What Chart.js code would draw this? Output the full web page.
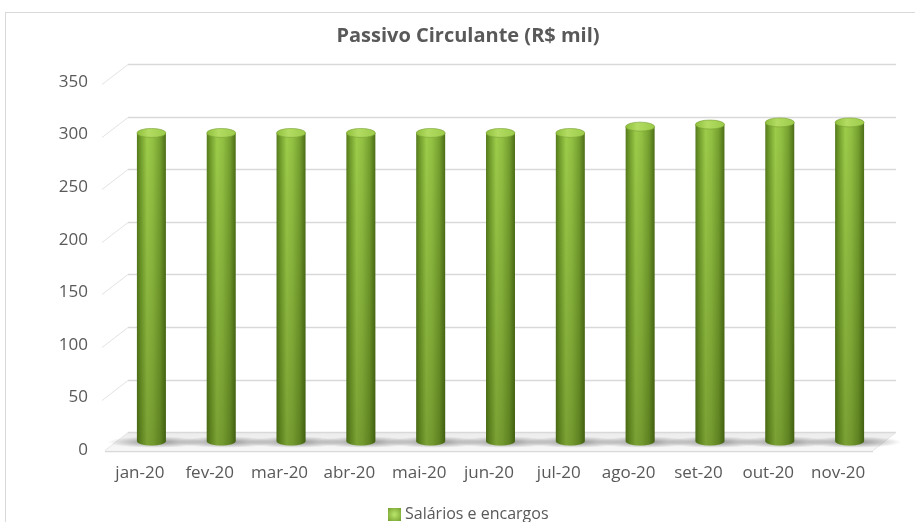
<!DOCTYPE html>
<html>
<head>
<meta charset="utf-8">
<script src="https://cdn.jsdelivr.net/npm/chart.js@4.4.1/dist/chart.umd.min.js"></script>
<style>
  html, body { margin: 0; padding: 0; background: #fff; }
</style>
</head>
<body>
<canvas id="chart" width="915" height="522"></canvas>
<script>
// values (R$ mil)
const months = ['jan-20', 'fev-20', 'mar-20', 'abr-20', 'mai-20', 'jun-20', 'jul-20', 'ago-20', 'set-20', 'out-20', 'nov-20'];
const salarios = [293, 293, 293, 293, 293, 293, 293, 299, 301, 303, 303];
const yTicks = [0, 50, 100, 150, 200, 250, 300, 350];
const seriesName = 'Salários e encargos';
const chartTitle = 'Passivo Circulante (R$ mil)';

// fake 3d depth of the plot box
const depthX = 23, depthY = 18;
const barPct = 0.415;

Chart.defaults.font.family = "'Open Sans', sans-serif";
Chart.defaults.color = '#595959';

const cylGradient = (ctx, cx, w) => {
    const g = ctx.createLinearGradient(cx - w / 2, 0, cx + w / 2, 0);
    g.addColorStop(0, '#557a1c');
    g.addColorStop(0.12, '#6f9b2a');
    g.addColorStop(0.35, '#9dcc4a');
    g.addColorStop(0.55, '#93c143');
    g.addColorStop(0.8, '#76a130');
    g.addColorStop(1, '#4c6e17');
    return g;
};

const barWidth = (chart) => {
    const a = chart.chartArea;
    return (a.right - a.left) / months.length * barPct;
};

const wall3d = {
    id: 'wall3d',
    beforeDraw(chart) {
        const { ctx, chartArea: a, scales: { y } } = chart;
        ctx.save();
        ctx.fillStyle = '#fff';
        ctx.fillRect(0, 0, chart.width, chart.height);
        ctx.strokeStyle = '#d9d9d9';
        ctx.lineWidth = 1;
        ctx.strokeRect(5.5, 12.5, chart.width, chart.height);

        // title (drawn here so it can sit off-centre like the original)
        ctx.fillStyle = '#595959';
        ctx.font = "bold 20px 'Open Sans', sans-serif";
        ctx.textAlign = 'center';
        ctx.textBaseline = 'alphabetic';
        ctx.fillText(chartTitle, 468, 41.5);

        // floor
        const y0 = Math.round(y.getPixelForValue(0)) + 0.5;
        const fg = ctx.createLinearGradient(0, y0 - depthY, 0, y0);
        fg.addColorStop(0, '#ececec');
        fg.addColorStop(1, '#f8f8f8');
        ctx.fillStyle = fg;
        ctx.beginPath();
        ctx.moveTo(a.left, y0);
        ctx.lineTo(a.left + depthX, y0 - depthY);
        ctx.lineTo(a.right + depthX, y0 - depthY);
        ctx.lineTo(a.right, y0);
        ctx.closePath();
        ctx.fill();
        ctx.strokeStyle = '#d9d9d9';
        ctx.lineWidth = 1.5;
        ctx.beginPath();
        ctx.moveTo(a.left + depthX, y0 - depthY);
        ctx.lineTo(a.right + depthX, y0 - depthY);
        ctx.moveTo(a.left, y0 + 1);
        ctx.lineTo(a.right, y0 + 1);
        ctx.stroke();
        ctx.strokeStyle = '#e6e6e6';
        ctx.lineWidth = 1;
        ctx.beginPath();
        ctx.moveTo(a.left, y0);
        ctx.lineTo(a.left + depthX, y0 - depthY);
        ctx.moveTo(a.right, y0);
        ctx.lineTo(a.right + depthX, y0 - depthY);
        ctx.stroke();

        // back wall gridlines + diagonal side wall lines
        yTicks.forEach(v => {
            if (v === 0) return;
            const py = Math.round(y.getPixelForValue(v)) + 0.5;
            ctx.strokeStyle = '#e3e3e3';
            ctx.lineWidth = 1;
            ctx.beginPath();
            ctx.moveTo(a.left - 3, py + 2);
            ctx.lineTo(a.left + depthX, py - depthY);
            ctx.stroke();
            ctx.strokeStyle = '#d9d9d9';
            ctx.lineWidth = 1.6;
            ctx.beginPath();
            ctx.moveTo(a.left + depthX, py - depthY);
            ctx.lineTo(a.right + depthX, py - depthY);
            ctx.stroke();
        });
        ctx.restore();
    },
    beforeDatasetsDraw(chart) {
        const ctx = chart.ctx;
        ctx.save();
        // bars stand in the middle of the depth
        ctx.translate(depthX / 2, -depthY / 2);
        // shadows on the floor
        chart.getDatasetMeta(0).data.forEach(bar => {
            const { x, base } = bar.getProps(['x', 'base'], true);
            ctx.save();
            ctx.translate(x + 4, base + 1);
            ctx.scale(1, 0.12);
            const rg = ctx.createRadialGradient(0, 0, 0, 0, 0, 48);
            rg.addColorStop(0, 'rgba(60,60,60,0.55)');
            rg.addColorStop(1, 'rgba(60,60,60,0)');
            ctx.fillStyle = rg;
            ctx.beginPath();
            ctx.arc(0, 0, 48, 0, Math.PI * 2);
            ctx.fill();
            ctx.restore();
        });
    },
    afterDatasetsDraw(chart) {
        const ctx = chart.ctx;
        const ry = 4.5;
        chart.getDatasetMeta(0).data.forEach(bar => {
            const { x, y, base, width } = bar.getProps(['x', 'y', 'base', 'width'], true);
            const rx = width / 2;
            // rounded bottom
            ctx.fillStyle = cylGradient(ctx, x, width);
            ctx.beginPath();
            ctx.ellipse(x, base, rx, ry, 0, 0, Math.PI);
            ctx.fill();
            // darker towards the floor
            const vg = ctx.createLinearGradient(0, y, 0, base + ry);
            vg.addColorStop(0, 'rgba(40,60,0,0)');
            vg.addColorStop(1, 'rgba(40,60,0,0.3)');
            ctx.fillStyle = vg;
            ctx.beginPath();
            ctx.moveTo(x - rx, y);
            ctx.lineTo(x + rx, y);
            ctx.lineTo(x + rx, base);
            ctx.ellipse(x, base, rx, ry, 0, 0, Math.PI);
            ctx.closePath();
            ctx.fill();
            // top cap
            const tg = ctx.createLinearGradient(x - rx, 0, x + rx, 0);
            tg.addColorStop(0, '#8fbf3c');
            tg.addColorStop(0.4, '#b2dc62');
            tg.addColorStop(1, '#9ccb4a');
            ctx.fillStyle = tg;
            ctx.beginPath();
            ctx.ellipse(x, y, rx, ry, 0, 0, Math.PI * 2);
            ctx.fill();
            ctx.strokeStyle = 'rgba(120,160,50,0.6)';
            ctx.lineWidth = 1;
            ctx.stroke();
        });
        ctx.restore();
    },
    afterDraw(chart) {
        // legend: single series, box + label, sitting at the very bottom
        const ctx = chart.ctx;
        ctx.save();
        const bx = 388, by = 508, bs = 13;
        const lg = ctx.createRadialGradient(bx + bs / 2, by + bs / 2, 1, bx + bs / 2, by + bs / 2, bs * 0.75);
        lg.addColorStop(0, '#b4de64');
        lg.addColorStop(1, '#6f9b2a');
        ctx.fillStyle = lg;
        ctx.fillRect(bx, by, bs, bs);
        ctx.fillStyle = '#595959';
        ctx.font = "16px 'Open Sans', sans-serif";
        ctx.textAlign = 'left';
        ctx.textBaseline = 'middle';
        ctx.fillText(seriesName, 405, 514.5);
        ctx.restore();
    }
};

new Chart(document.getElementById('chart'), {
    type: 'bar',
    data: {
        labels: months,
        datasets: [{
            label: seriesName,
            data: salarios,
            categoryPercentage: 1,
            barPercentage: barPct,
            borderWidth: 0,
            backgroundColor: (c) => {
                const chart = c.chart;
                if (!chart.chartArea) return '#8ab83a';
                return cylGradient(chart.ctx, chart.scales.x.getPixelForValue(c.dataIndex), barWidth(chart));
            }
        }]
    },
    options: {
        responsive: false,
        animation: false,
        layout: { padding: { left: 0, right: 42, top: 82, bottom: 25.5 } },
        plugins: {
            title: { display: false },
            legend: { display: false },
            tooltip: { enabled: false }
        },
        scales: {
            x: {
                grid: { display: false, drawTicks: false },
                border: { display: false },
                ticks: { color: '#595959', font: { size: 17 }, padding: 13, maxRotation: 0 }
            },
            y: {
                min: 0,
                max: 350,
                afterFit: (s) => { s.width = 105; },
                grid: { display: false, drawTicks: false },
                border: { display: false },
                ticks: { stepSize: 50, color: '#595959', font: { size: 17 }, padding: 17 }
            }
        }
    },
    plugins: [wall3d]
});
</script>
</body>
</html>
